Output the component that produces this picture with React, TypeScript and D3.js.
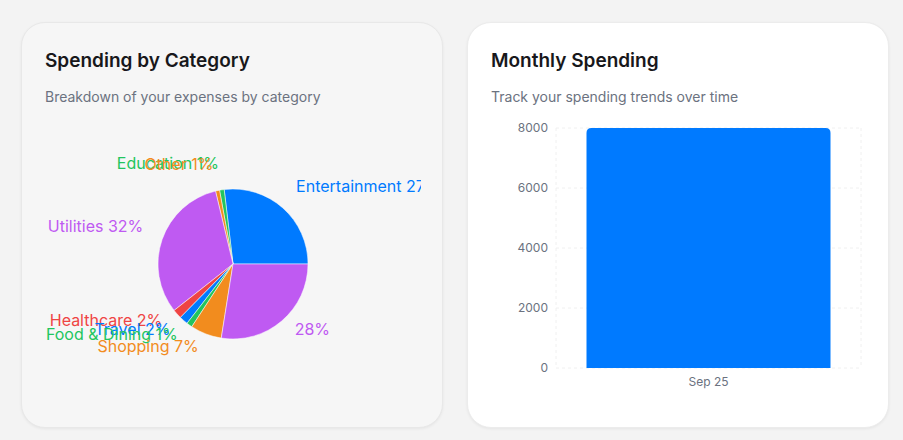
import { useRef, useEffect } from 'react';
import { select, pie, arc, scaleLinear, scaleBand, axisLeft, axisBottom, format } from 'd3';

// pie data (order follows the slices, counter-clockwise from 3 o'clock)
const categories = ['Entertainment', 'Education', 'Other', 'Utilities', 'Healthcare', 'Travel', 'Food & Dining', 'Shopping', ''];
const amounts = [2150, 80, 70, 2550, 160, 150, 100, 540, 2200];
const palette = ['#007AFF', '#22C55E', '#F28C1E', '#BF5AF2', '#EF4444'];

// bar data
const months = ['Sep 25'];
const monthly = [8000];
const yTicks = [0, 2000, 4000, 6000, 8000];

const FONT = 'Inter, "Noto Sans", sans-serif';

function PieCard() {
    const svgRef = useRef<SVGSVGElement | null>(null);

    useEffect(() => {
        const svg = select(svgRef.current);
        svg.selectAll('*').remove();
        const cx = 187, cy = 151, r = 75;
        const total = amounts.reduce((a, b) => a + b, 0);
        // counter-clockwise from 3 o'clock like recharts default
        const arcs = pie<number>()
            .sort(null)
            .startAngle(Math.PI / 2)
            .endAngle(Math.PI / 2 - Math.PI * 2)(amounts);
        const g = svg.append('g').attr('transform', `translate(${cx},${cy})`);
        const a = arc<any>().innerRadius(0).outerRadius(r);
        g.selectAll('path')
            .data(arcs)
            .join('path')
            .attr('d', a)
            .attr('fill', (d, i) => palette[i % palette.length])
            .attr('stroke', '#fff')
            .attr('stroke-width', 0.5);

        g.selectAll('text')
            .data(arcs)
            .join('text')
            .each(function (d, i) {
                const mid = (d.startAngle + d.endAngle) / 2;
                const lr = r + 20;
                const x = Math.sin(mid) * lr;
                const y = -Math.cos(mid) * lr - 1;
                const pct = Math.round((amounts[i] / total) * 100);
                select(this)
                    .attr('x', x)
                    .attr('y', y)
                    .attr('text-anchor', x > 0 ? 'start' : 'end')
                    .attr('fill', palette[i % palette.length])
                    .attr('font-size', 16)
                    .attr('font-family', FONT)
                    .text(`${categories[i]} ${pct}%`.trim());
            });
    }, []);

    return (
        <div style={{ position: 'absolute', left: 21, top: 22, width: 422, height: 406, boxSizing: 'border-box', background: '#f6f6f6', border: '1px solid #e8e8e8', borderRadius: 24, boxShadow: '0 1px 3px rgba(0,0,0,0.06)' }}>
            <div style={{ position: 'absolute', left: 23, top: 26, fontFamily: FONT, fontSize: 19, fontWeight: 600, color: '#18181b' }}>Spending by Category</div>
            <div style={{ position: 'absolute', left: 23, top: 65, fontFamily: FONT, fontSize: 14, color: '#6b7280' }}>Breakdown of your expenses by category</div>
            <svg ref={svgRef} width={375} height={300} style={{ position: 'absolute', left: 24, top: 90, overflow: 'hidden' }} />
        </div>
    );
}

function BarCard() {
    const svgRef = useRef<SVGSVGElement | null>(null);

    useEffect(() => {
        const svg = select(svgRef.current);
        svg.selectAll('*').remove();
        const left = 64, right = 369, top = 15, bottom = 255;
        const x = scaleBand().domain(months).range([left, right]).paddingInner(0.2).paddingOuter(0.1);
        const y = scaleLinear().domain([0, 8000]).range([bottom, top]);

        // grid
        const grid = svg.append('g').attr('stroke', '#f0f0f0').attr('stroke-dasharray', '3 3');
        grid.selectAll('line.h')
            .data(yTicks)
            .join('line')
            .attr('class', 'h')
            .attr('x1', left).attr('x2', right)
            .attr('y1', (d) => y(d)).attr('y2', (d) => y(d));
        grid.selectAll('line.v')
            .data([left, right])
            .join('line')
            .attr('class', 'v')
            .attr('x1', (d) => d).attr('x2', (d) => d)
            .attr('y1', top).attr('y2', bottom);

        // bars with rounded top
        const rr = 5;
        svg.selectAll('path.bar')
            .data(monthly)
            .join('path')
            .attr('class', 'bar')
            .attr('fill', '#007AFF')
            .attr('d', (d, i) => {
                const x0 = x(months[i]) || 0;
                const w = x.bandwidth();
                const y0 = y(d);
                return `M${x0},${bottom}V${y0 + rr}Q${x0},${y0} ${x0 + rr},${y0}H${x0 + w - rr}Q${x0 + w},${y0} ${x0 + w},${y0 + rr}V${bottom}Z`;
            });

        const yAxis: any = axisLeft(y).tickValues(yTicks).tickFormat(format('d')).tickSize(0).tickPadding(8);
        const ga = svg.append('g').attr('transform', `translate(${left},0)`).call(yAxis);
        const xAxis: any = axisBottom(x).tickSize(0).tickPadding(9);
        const gb = svg.append('g').attr('transform', `translate(0,${bottom})`).call(xAxis);
        [ga, gb].forEach((g) => {
            g.select('.domain').remove();
            g.selectAll('text').attr('fill', '#6b7280').attr('font-size', 12).attr('font-family', FONT);
        });
    }, []);

    return (
        <div style={{ position: 'absolute', left: 467, top: 22, width: 422, height: 406, boxSizing: 'border-box', background: '#ffffff', border: '1px solid #ececec', borderRadius: 24, boxShadow: '0 1px 3px rgba(0,0,0,0.06)' }}>
            <div style={{ position: 'absolute', left: 23, top: 26, fontFamily: FONT, fontSize: 19, fontWeight: 600, color: '#18181b' }}>Monthly Spending</div>
            <div style={{ position: 'absolute', left: 23, top: 65, fontFamily: FONT, fontSize: 14, color: '#6b7280' }}>Track your spending trends over time</div>
            <svg ref={svgRef} width={375} height={300} style={{ position: 'absolute', left: 24, top: 90, overflow: 'hidden' }} />
        </div>
    );
}

export default function App() {
    return (
        <div style={{ position: 'fixed', inset: 0, background: '#f3f3f3' }}>
            <PieCard />
            <BarCard />
        </div>
    );
}
